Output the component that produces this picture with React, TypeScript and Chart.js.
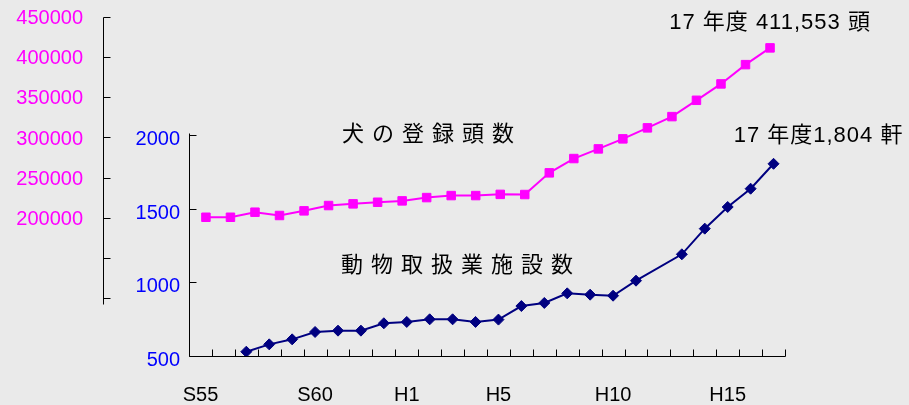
import { useEffect, useRef } from 'react';
import { Chart, registerables } from 'chart.js';

Chart.register(...registerables);

// ---- data ----
const categories = [
  'S55', 'S56', 'S57', 'S58', 'S59', 'S60', 'S61', 'S62', 'S63',
  'H1', 'H2', 'H3', 'H4', 'H5', 'H6', 'H7', 'H8', 'H9', 'H10',
  'H11', 'H12', 'H13', 'H14', 'H15', 'H16', 'H17',
];
const shownXLabels = ['S55', 'S60', 'H1', 'H5', 'H10', 'H15'];

// 動物取扱業施設数 (inner blue axis)
const facilityCounts: (number | null)[] = [
  null, null, 529, 579, 613, 663, 672, 672, 722, 731, 749, 749, 731,
  747, 839, 860, 925, 916, 909, 1011, null, 1190, 1364, 1511, 1635, 1804,
];

// 犬の登録頭数 (outer magenta axis)
const dogYears = [
  'S57', 'S58', 'S59', 'S60', 'S61', 'S62', 'S63', 'H1', 'H2', 'H3', 'H4', 'H5',
  'H6', 'H7', 'H8', 'H9', 'H10', 'H11', 'H12', 'H13', 'H14', 'H15', 'H16', 'H17',
];
const dogCounts = [
  200700, 200700, 207000, 202900, 208700, 215300, 217400, 219400, 221100, 225200,
  227700, 227700, 229200, 229000, 256000, 273800, 285800, 298300, 312000, 326000,
  346300, 366700, 390700, 411553,
];

const facilityTicks = [500, 1000, 1500, 2000];
const dogTickMarks = [100000, 150000, 200000, 250000, 300000, 350000, 400000, 450000];
const dogTickLabels = [200000, 250000, 300000, 350000, 400000, 450000];
const dogAxisBottom = 93000;

const dogTotalLabel = '17 年度 411,553 頭';
const facilityTotalLabel = '17 年度1,804 軒';
const dogSeriesName = '犬の登録頭数';
const facilitySeriesName = '動物取扱業施設数';

const FONT = '"Liberation Sans", Arial, "Noto Sans CJK JP", sans-serif';
const BG = '#EAEAEA';

const axisPlugin = {
  id: 'customAxes',
  beforeDatasetsDraw(chart: any) {
    const { ctx, chartArea: ca, scales } = chart;
    const x = scales.x, y = scales.y, y2 = scales.y2;
    const T = 7;
    const px = (v: number) => Math.round(v) + 0.5;
    ctx.save();
    ctx.strokeStyle = '#000';
    ctx.lineWidth = 1;
    ctx.beginPath();
    const base = px(y.getPixelForValue(facilityTicks[0]));
    const left = px(ca.left);
    // x axis
    ctx.moveTo(left, base);
    ctx.lineTo(px(ca.right), base);
    for (let i = 0; i <= categories.length; i++) {
      const tx = px(x.getPixelForValue(i - 0.5));
      ctx.moveTo(tx, base);
      ctx.lineTo(tx, base - T);
    }
    // blue y axis
    ctx.moveTo(left, base);
    ctx.lineTo(left, px(y.getPixelForValue(facilityTicks[facilityTicks.length - 1])) - 2);
    for (const v of facilityTicks) {
      const ty = px(y.getPixelForValue(v));
      ctx.moveTo(left, ty);
      ctx.lineTo(left + T, ty);
    }
    // magenta y axis
    const ax = px(y2.right);
    ctx.moveTo(ax, px(y2.getPixelForValue(dogTickMarks[dogTickMarks.length - 1])));
    ctx.lineTo(ax, px(y2.getPixelForValue(dogAxisBottom)));
    for (const v of dogTickMarks) {
      const ty = px(y2.getPixelForValue(v));
      ctx.moveTo(ax, ty);
      ctx.lineTo(ax + T, ty);
    }
    ctx.stroke();
    ctx.restore();
  },
};

const labelPlugin = {
  id: 'customLabels',
  afterDatasetsDraw(chart: any) {
    const { ctx, chartArea } = chart;
    const dogMeta = chart.getDatasetMeta(0);
    const facMeta = chart.getDatasetMeta(1);
    const dogLast = dogMeta.data[dogMeta.data.length - 1];
    const facLast = facMeta.data[facMeta.data.length - 1];
    ctx.save();
    ctx.fillStyle = '#000';
    ctx.textBaseline = 'middle';
    ctx.font = `22px ${FONT}`;
    ctx.letterSpacing = '1px';
    ctx.textAlign = 'center';
    ctx.fillText(dogTotalLabel, dogLast.x, dogLast.y - 25);
    ctx.fillText(facilityTotalLabel, facLast.x + 45, facLast.y - 28);
    ctx.textAlign = 'left';
    ctx.letterSpacing = '8px';
    ctx.fillText(dogSeriesName, chartArea.left + 153, chartArea.top + 118);
    ctx.fillText(facilitySeriesName, chartArea.left + 152, chartArea.top + 249);
    ctx.restore();
  },
};

const noPad = (s: any) => {
  s.paddingTop = 0;
  s.paddingBottom = 0;
  s.paddingLeft = 0;
  s.paddingRight = 0;
};

export default function App() {
  const ref = useRef<HTMLCanvasElement>(null);
  useEffect(() => {
    document.body.style.margin = '0';
    document.body.style.background = BG;
    const chart = new Chart(ref.current as HTMLCanvasElement, {
      type: 'line',
      data: {
        labels: categories,
        datasets: [
          {
            label: dogSeriesName,
            data: dogCounts.map((v, i) => ({ x: i, y: v })) as any,
            xAxisID: 'x2',
            yAxisID: 'y2',
            borderColor: '#FF00FF',
            backgroundColor: '#FF00FF',
            borderWidth: 2,
            pointStyle: 'rect',
            pointRadius: 6,
            pointBorderWidth: 1,
            tension: 0,
          },
          {
            label: facilitySeriesName,
            data: facilityCounts as any,
            xAxisID: 'x',
            yAxisID: 'y',
            borderColor: '#000080',
            backgroundColor: '#000080',
            borderWidth: 2,
            pointStyle: 'rectRot',
            pointRadius: 5.5,
            pointBorderWidth: 1,
            spanGaps: true,
            tension: 0,
          },
        ],
      },
      options: {
        animation: false,
        responsive: true,
        maintainAspectRatio: false,
        layout: { padding: { top: 17, right: 124, bottom: 0, left: 0 } },
        plugins: { legend: { display: false }, tooltip: { enabled: false } },
        scales: {
          x: {
            type: 'category',
            position: 'bottom',
            offset: true,
            afterFit: (s: any) => {
              s.height = 49;
              noPad(s);
            },
            grid: { display: false, drawTicks: false },
            border: { display: false },
            ticks: {
              autoSkip: false,
              maxRotation: 0,
              minRotation: 0,
              padding: 29,
              color: '#000',
              font: { family: FONT, size: 20, lineHeight: 1 },
              callback: (_v: any, i: number) =>
                shownXLabels.includes(categories[i]) ? categories[i] : '',
            },
          },
          x2: {
            type: 'linear',
            display: false,
            min: -0.69,
            max: dogYears.length - 1 + 0.61,
          },
          y: {
            type: 'linear',
            position: 'left',
            weight: 0,
            min: 500,
            max: 2800,
            afterBuildTicks: (s: any) => {
              s.ticks = facilityTicks.map((v) => ({ value: v }));
            },
            afterFit: (s: any) => {
              s.width = 86;
              noPad(s);
            },
            grid: { display: false, drawTicks: false },
            border: { display: false },
            ticks: {
              padding: 9,
              color: '#0000FF',
              labelOffset: 4.5,
              font: { family: FONT, size: 20 },
              callback: (v: any) => String(v),
            },
          },
          y2: {
            type: 'linear',
            position: 'left',
            weight: 1,
            min: 28000,
            max: 450000,
            afterBuildTicks: (s: any) => {
              s.ticks = dogTickMarks.map((v) => ({ value: v }));
            },
            afterFit: (s: any) => {
              s.width = 103;
              noPad(s);
            },
            grid: { display: false, drawTicks: false },
            border: { display: false },
            ticks: {
              padding: 20,
              color: '#FF00FF',
              labelOffset: 1.5,
              font: { family: FONT, size: 20 },
              callback: (v: any) => (dogTickLabels.includes(v) ? String(v) : ''),
            },
          },
        },
      } as any,
      plugins: [axisPlugin, labelPlugin],
    });
    return () => chart.destroy();
  }, []);
  return (
    <div style={{ width: 909, height: 405, position: 'relative', background: BG }}>
      <canvas ref={ref} />
    </div>
  );
}
